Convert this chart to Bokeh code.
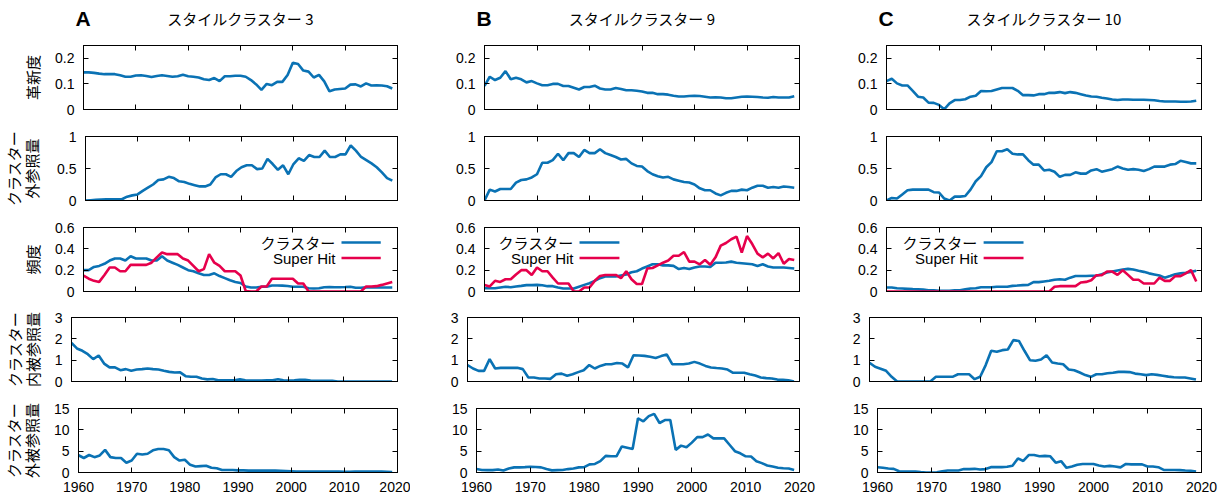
import math
from bokeh.plotting import figure
from bokeh.models import (Range1d, FixedTicker, LinearAxis, CustomJSTickFormatter,
                          Label, Arrow, CustomLabelingPolicy)
from bokeh.layouts import column, row
from bokeh.embed import file_html
from bokeh.resources import INLINE

# ---------------- data ----------------
years = list(range(1960, 2020))
x_ticks = [1960, 1970, 1980, 1990, 2000, 2010, 2020]

titles = ["スタイルクラスター 3", "スタイルクラスター 9", "スタイルクラスター 10"]
panel_letters = ["A", "B", "C"]
row_labels = ["革新度", "クラスター\n外参照量", "頻度",
              "クラスター\n内被参照量", "クラスター\n外被参照量"]
legend_labels = ["クラスター", "Super Hit"]

y_max = [0.25, 1, 0.6, 3, 15]
y_ticks = [[0, 0.1, 0.2], [0, 0.5, 1], [0, 0.2, 0.4, 0.6], [0, 1, 2, 3], [0, 5, 10, 15]]

# Cluster 3
a_innovation = [.145, .145, .143, .140, .138, .138, .138, .134, .128, .128,
                .133, .134, .131, .127, .131, .134, .131, .128, .130, .136,
                .130, .128, .125, .118, .115, .123, .111, .130, .130, .132,
                .132, .128, .115, .098, .077, .100, .095, .108, .108, .135,
                .183, .178, .152, .148, .125, .135, .110, .071, .078, .080,
                .082, .097, .098, .090, .102, .094, .095, .094, .091, .082]
a_out_ref = [0, .005, .01, .015, .02, .02, .02, .02, .06, .08,
             .095, .15, .2, .25, .32, .33, .37, .35, .3, .29,
             .26, .24, .22, .22, .25, .36, .41, .41, .37, .46,
             .52, .55, .55, .49, .5, .65, .57, .48, .55, .41,
             .57, .66, .62, .71, .68, .68, .78, .68, .68, .72,
             .72, .86, .78, .68, .63, .58, .52, .44, .35, .31]
a_freq_cluster = [.2, .2, .23, .24, .26, .29, .31, .31, .29, .33,
                  .31, .31, .31, .29, .29, .33, .29, .27, .25, .225,
                  .2, .19, .17, .155, .155, .17, .145, .125, .105, .09,
                  .08, .047, .038, .038, .045, .045, .056, .056, .055, .052,
                  .045, .045, .045, .03, .028, .03, .04, .042, .04, .04,
                  .042, .045, .035, .035, .04, .038, .038, .038, .038, .038]
a_freq_hit = [.15, .12, .1, .09, .155, .225, .225, .19, .19, .25,
              .25, .25, .25, .27, .32, .365, .35, .35, .35, .31,
              .29, .24, .19, .21, .35, .27, .24, .19, .19, .19,
              .15, .005, 0, 0, .047, .047, .12, .12, .12, .12,
              .12, .075, .075, 0, 0, 0, 0, 0, 0, 0,
              0, 0, 0, 0, .047, .047, .05, .062, .075, .088]
a_in_cited = [1.81, 1.55, 1.44, 1.28, 1.05, 1.22, .84, .66, .66, .53,
              .58, .5, .56, .58, .61, .58, .56, .5, .45, .42,
              .43, .25, .22, .22, .14, .1, .12, .06, .06, .06,
              .06, .1, .06, .05, .05, .05, .06, .06, .11, .06,
              .05, .06, .08, .08, .05, .03, .03, .03, .03, 0,
              0, 0, 0, 0, 0, 0, 0, 0, 0, 0]
a_out_cited = [4.06, 3.4, 4.1, 3.6, 4.0, 5.3, 3.6, 3.4, 3.4, 2.3,
               2.8, 4.4, 4.2, 4.4, 5.2, 5.5, 5.5, 5.2, 3.6, 2.8,
               3.0, 1.8, 1.4, 1.5, 1.6, 1.1, 1.0, .6, .6, .6,
               .5, .5, .45, .45, .45, .45, .45, .45, .4, .35,
               .3, .25, .25, .25, .2, .2, .2, .2, .2, .2,
               .15, .15, .2, .2, .2, .2, .2, .2, .15, .1]

# Cluster 9
b_innovation = [.092, .128, .115, .124, .15, .118, .124, .118, .106, .111,
                .102, .095, .095, .1, .1, .092, .092, .085, .078, .088,
                .088, .093, .082, .078, .078, .084, .08, .075, .075, .073,
                .07, .065, .065, .06, .06, .058, .054, .051, .051, .053,
                .054, .053, .05, .047, .048, .047, .044, .044, .047, .05,
                .051, .05, .049, .047, .046, .049, .047, .047, .047, .052]
b_out_ref = [0, .17, .14, .18, .18, .18, .28, .32, .33, .36,
             .41, .59, .59, .63, .73, .63, .74, .74, .68, .79,
             .74, .74, .8, .74, .71, .68, .64, .65, .58, .54,
             .53, .46, .41, .38, .36, .37, .33, .31, .29, .28,
             .25, .19, .16, .16, .11, .08, .12, .15, .15, .17,
             .16, .2, .23, .23, .2, .21, .2, .22, .21, .2]
b_freq_cluster = [.03, .03, .03, .038, .045, .04, .047, .053, .06, .06,
                  .062, .058, .05, .05, .038, .028, .028, .028, .045, .062,
                  .078, .1, .125, .14, .14, .14, .15, .16, .18, .19,
                  .215, .235, .255, .255, .245, .245, .24, .21, .22, .21,
                  .225, .235, .235, .23, .27, .27, .272, .28, .27, .265,
                  .26, .255, .24, .255, .235, .225, .225, .225, .22, .215]
b_freq_hit = [.062, .047, .1, .09, .115, .115, .16, .2, .2, .155,
              .225, .19, .19, .13, .075, .075, .075, 0, 0, .038,
              .038, .1, .145, .155, .155, .155, .125, .19, .115, .07,
              .07, .215, .22, .245, .27, .29, .335, .335, .37, .28,
              .28, .255, .295, .25, .32, .43, .455, .49, .515, .365,
              .52, .445, .355, .32, .355, .31, .36, .26, .305, .295]
b_in_cited = [.77, .61, .5, .5, 1.05, .61, .64, .64, .64, .64,
              .58, .19, .19, .14, .14, .125, .34, .37, .27, .34,
              .44, .53, .77, .61, .73, .81, .81, .87, .84, .66,
              1.23, 1.22, 1.2, 1.16, 1.1, 1.19, 1.27, .81, .81, .81,
              .84, .92, .84, .73, .66, .63, .61, .56, .41, .41,
              .41, .34, .28, .19, .16, .14, .09, .08, .06, 0]
b_out_cited = [.8, .6, .55, .55, .7, .47, .94, 1.2, 1.2, 1.25,
               1.33, 1.3, 1.2, .8, .5, .55, .6, .8, .94, 1.2,
               1.25, 1.9, 2.0, 2.65, 3.9, 3.8, 3.8, 6.1, 5.8, 5.5,
               12.7, 12.0, 13.2, 13.75, 11.6, 12.3, 12.3, 5.3, 6.3, 5.9,
               7.0, 8.3, 8.3, 8.9, 8.0, 8.0, 8.0, 6.5, 5.0, 4.5,
               3.8, 3.75, 2.65, 2.2, 1.65, 1.4, 1.1, 1.0, .94, .6]

# Cluster 10
c_innovation = [.111, .12, .102, .094, .094, .073, .05, .047, .027, .026,
                .018, .001, .024, .037, .037, .04, .05, .054, .072, .071,
                .072, .078, .084, .084, .084, .073, .056, .056, .055, .06,
                .06, .065, .065, .068, .064, .068, .065, .06, .055, .051,
                .05, .046, .043, .039, .037, .039, .039, .038, .038, .038,
                .037, .036, .033, .031, .031, .031, .03, .03, .031, .034]
c_out_ref = [0, .04, .03, .095, .16, .17, .17, .17, .17, .13,
             .125, .03, 0, .06, .06, .07, .17, .3, .38, .52,
             .6, .77, .77, .8, .73, .72, .72, .63, .56, .56,
             .47, .48, .45, .37, .4, .4, .44, .42, .42, .47,
             .49, .45, .47, .49, .53, .5, .48, .49, .48, .46,
             .49, .53, .53, .53, .56, .57, .62, .6, .58, .58]
c_freq_cluster = [.038, .038, .03, .028, .025, .022, .02, .018, .012, .012,
                  .006, .006, .006, .012, .012, .02, .028, .03, .04, .04,
                  .04, .044, .044, .044, .053, .056, .06, .062, .088, .088,
                  .094, .1, .11, .115, .11, .13, .145, .145, .145, .147,
                  .147, .162, .178, .187, .197, .206, .212, .206, .194, .184,
                  .17, .16, .15, .13, .145, .162, .17, .175, .184, .194]
c_freq_hit = [0, 0, 0, 0, 0, 0, 0, 0, 0, 0,
              0, 0, 0, 0, 0, 0, 0, 0, 0, 0,
              0, 0, 0, 0, 0, 0, 0, 0, 0, 0,
              0, 0, .044, .05, .05, .05, .05, .084, .09, .106,
              .153, .153, .187, .187, .156, .2, .156, .11, .11, .075,
              .075, .075, .13, .1, .1, .144, .144, .17, .2, .094]
c_in_cited = [.875, .69, .6, .5, .22, 0, 0, 0, 0, 0,
              0, 0, .22, .22, .22, .22, .34, .34, .34, .11,
              .22, .77, 1.44, 1.39, 1.47, 1.5, 1.94, 1.9, 1.44, 1.0,
              .97, 1.03, 1.23, .89, .84, .81, .56, .53, .42, .3,
              .22, .34, .34, .39, .41, .45, .45, .44, .37, .34,
              .3, .34, .31, .27, .23, .2, .19, .19, .14, .09]
c_out_cited = [1.25, 1.1, .94, .86, .3, .23, .23, .23, .08, 0,
               0, .05, .3, .47, .47, .47, .8, .8, .86, .7,
               .8, 1.25, 1.25, 1.25, 1.33, 1.56, 3.3, 2.7, 4.1, 4.1,
               3.8, 3.9, 3.8, 2.3, 2.65, 1.1, 1.4, 1.8, 2.0, 2.0,
               2.0, 1.65, 1.4, 1.56, 1.4, 1.2, 2.0, 1.9, 1.9, 1.9,
               1.4, 1.4, 1.25, .6, .6, .6, .55, .47, .4, .23]

columns_data = [
    [[a_innovation], [a_out_ref], [a_freq_cluster, a_freq_hit], [a_in_cited], [a_out_cited]],
    [[b_innovation], [b_out_ref], [b_freq_cluster, b_freq_hit], [b_in_cited], [b_out_cited]],
    [[c_innovation], [c_out_ref], [c_freq_cluster, c_freq_hit], [c_in_cited], [c_out_cited]],
]

# ---------------- styling / layout ----------------
BLUE = "#0a72b4"
RED = "#e6004c"
LINE_COLORS = [BLUE, RED]
TICK_FONT = "Liberation Sans"
JP_FONT = "Noto Sans CJK JP"

COL_W = [410, 410, 408]
COL_RIGHT = [13, 21, 27]
COL_LEFT = [[83, 83, 83, 66, 74], [74, 74, 74, 57, 66], [66, 66, 66, 49, 57]]
FRAME_H = 64
HEADER_H = 36
ROW_TOP = [9, 15, 15, 14, 15]
ROW_BOTTOM = [12, 12, 12, 12, 25]
LABEL_STANDOFF = [9, 12, 9, 9, 9]

legend_x = [(2009.3, 2016.8), (1978.1, 1985.7), (1978.5, 1986.1)]
legend_off = [15, 30.5]

fmt_code = "return String(Math.round(tick*1000)/1000);"
hide_code = "for (const i of indices) indices.unset(i); return indices;"


def style_axis(ax, ticks, show_labels, standoff):
    ax.ticker = FixedTicker(ticks=ticks)
    ax.formatter = CustomJSTickFormatter(code=fmt_code)
    ax.major_tick_in = 5
    ax.major_tick_out = 0
    ax.minor_tick_line_color = None
    ax.major_tick_line_color = "black"
    ax.major_tick_line_width = 1
    ax.axis_line_color = "black"
    ax.axis_line_width = 1
    ax.major_label_text_font = TICK_FONT
    ax.major_label_text_color = "black"
    ax.major_label_standoff = standoff
    if show_labels:
        ax.major_label_text_font_size = "14px"
    else:
        ax.major_label_text_font_size = "0px"
        ax.major_label_policy = CustomLabelingPolicy(code=hide_code)


# header row: panel letters and titles
headers = []
for c in range(3):
    w = COL_W[c]
    h = figure(width=w, height=HEADER_H, x_range=Range1d(0, w), y_range=Range1d(0, HEADER_H),
               x_axis_location=None, y_axis_location=None, title=None,
               output_backend="svg", toolbar_location=None, min_border=0)
    h.outline_line_color = None
    h.grid.visible = False
    fl = COL_LEFT[c][0]
    fr = w - COL_RIGHT[c]
    h.add_layout(Label(x=(fl + fr) / 2, y=HEADER_H - 18, text=titles[c],
                       text_align="center", text_baseline="middle",
                       text_font=JP_FONT, text_font_size="15px", text_color="black"))
    h.add_layout(Label(x=fl - 8, y=HEADER_H - 18, text=panel_letters[c],
                       text_align="left", text_baseline="middle", text_font=TICK_FONT,
                       text_font_style="bold", text_font_size="21px", text_color="black"))
    headers.append(h)

figs_rows = [row(*headers)]
for r in range(5):
    figs = []
    for c in range(3):
        hgt = ROW_TOP[r] + FRAME_H + ROW_BOTTOM[r]
        p = figure(width=COL_W[c], height=hgt,
                   x_range=Range1d(1960, 2020), y_range=Range1d(0, y_max[r]),
                   output_backend="svg", toolbar_location=None, title=None,
                   min_border_left=COL_LEFT[c][r], min_border_right=COL_RIGHT[c],
                   min_border_top=ROW_TOP[r], min_border_bottom=ROW_BOTTOM[r])
        p.xgrid.visible = False
        p.ygrid.visible = False
        p.outline_line_color = "black"
        p.outline_line_width = 1
        p.outline_line_alpha = 1
        p.background_fill_color = "white"
        p.border_fill_color = "white"

        style_axis(p.xaxis[0], x_ticks, r == 4, 9)
        style_axis(p.yaxis[0], y_ticks[r], True, 9)
        top_ax = LinearAxis()
        style_axis(top_ax, x_ticks, False, 0)
        right_ax = LinearAxis()
        style_axis(right_ax, y_ticks[r], False, 0)
        p.add_layout(top_ax, "above")
        p.add_layout(right_ax, "right")

        if c == 0:
            ya = p.yaxis[0]
            ya.axis_label = row_labels[r]
            ya.axis_label_text_font = JP_FONT
            ya.axis_label_text_font_size = "15px"
            ya.axis_label_text_font_style = "normal"
            ya.axis_label_text_color = "black"
            ya.axis_label_text_line_height = 0.85
            ya.axis_label_standoff = LABEL_STANDOFF[r]

        for i, series in enumerate(columns_data[c][r]):
            p.line(years, series, line_color=LINE_COLORS[i], line_width=2.6)

        if r == 2:
            x0, x1 = legend_x[c]
            for i, txt in enumerate(legend_labels):
                yy = y_max[r] - legend_off[i] * y_max[r] / FRAME_H
                p.add_layout(Arrow(x_start=x0, y_start=yy, x_end=x1, y_end=yy, end=None,
                                   line_color=LINE_COLORS[i], line_width=2.6))
                p.add_layout(Label(x=x0, y=yy, x_offset=-6, text=txt,
                                   text_align="right", text_baseline="middle",
                                   text_font=JP_FONT if i == 0 else TICK_FONT,
                                   text_font_size="15px", text_color="black"))
        figs.append(p)
    figs_rows.append(row(*figs))

layout = column(*figs_rows)
open("out.html", "w").write(file_html(layout, INLINE))
